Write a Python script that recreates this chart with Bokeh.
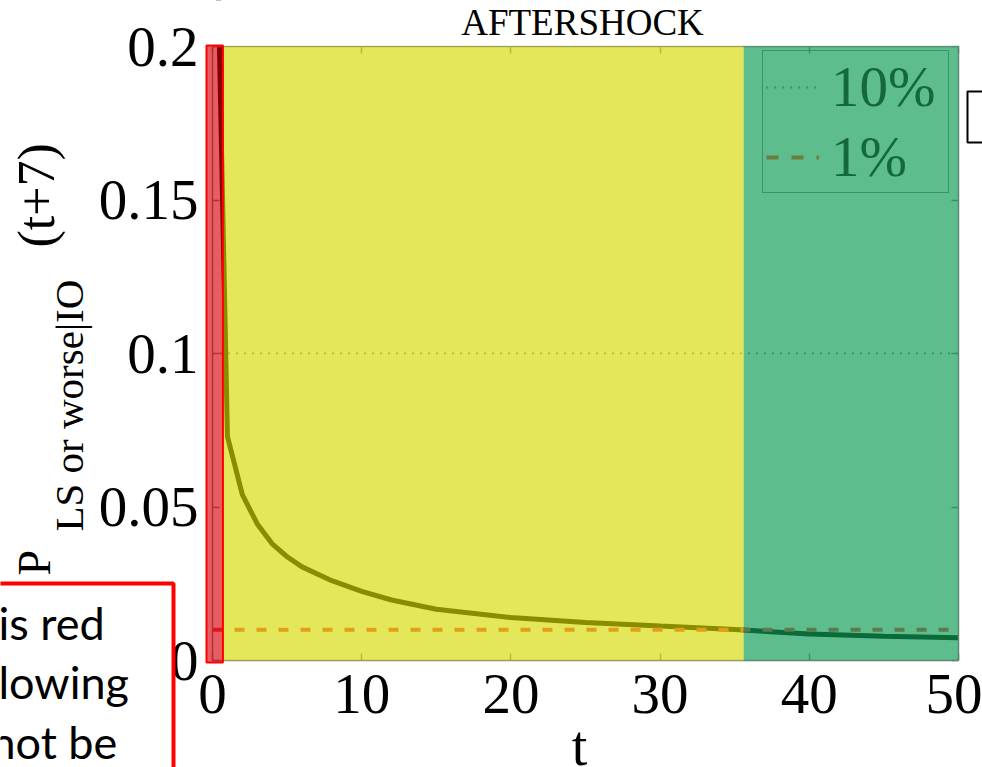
from math import pi
from bokeh.plotting import figure
from bokeh.models import (BoxAnnotation, Label, Legend, LegendItem, LinearAxis,
                          FixedTicker, Range1d, ColumnDataSource)
from bokeh.embed import file_html
from bokeh.resources import INLINE

# ---------------- data ----------------
t_vals = [0, 1, 2, 3, 4, 5, 6, 8, 10, 12, 15, 20, 25, 30, 35, 40, 45, 50]
p_vals = [0.31, 0.073, 0.054, 0.0445, 0.038, 0.0338, 0.0305, 0.026, 0.0225,
          0.0197, 0.0167, 0.0140, 0.0124, 0.0112, 0.0101, 0.0086, 0.0079, 0.0074]
threshold_names = ["10%", "1%"]
threshold_values = [0.10, 0.01]
x_ticks = [0, 10, 20, 30, 40, 50]
y_ticks = [0, 0.05, 0.1, 0.15, 0.2]
y_tick_labels = ["0", "0.05", "0.1", "0.15", "0.2"]
zone_edges = [0.7, 35.6]          # red | yellow | green boundaries (t)
title_text = "AFTERSHOCK"
x_label = "t"
y_label_parts = ["P", "LS or worse|IO", "(t+7)"]
note_lines = ["is red", "lowing", "not be"]

# ---------------- layout ----------------
W, H = 982, 767
FL, FR, FT, FB = 212, 958, 46, 660   # plot-box edges in pixels
X0, X1, Y0, Y1 = 0, 50, 0, 0.2


def dx(px):
    return X0 + (px - FL) * (X1 - X0) / (FR - FL)


def dy(py):
    return Y0 + (FB - py) * (Y1 - Y0) / (FB - FT)


SERIF = "Liberation Serif"
GREY = "#808080"

# the frame fills the whole canvas; the axes are pinned to the plot box
p = figure(width=W, height=H, x_range=Range1d(dx(0), dx(W)), y_range=Range1d(dy(H), dy(0)),
           output_backend="svg", toolbar_location=None,
           x_axis_location=None, y_axis_location=None, min_border=0)
p.background_fill_color = "white"
p.border_fill_color = "white"
p.outline_line_color = None
p.xgrid.visible = False
p.ygrid.visible = False


def make_axis(ticks, loc, bounds, labels=True):
    ax = LinearAxis(ticker=FixedTicker(ticks=ticks), fixed_location=loc, bounds=bounds,
                    axis_line_color=GREY, axis_line_width=1.5,
                    major_tick_line_color=GREY, major_tick_line_width=1.5,
                    major_tick_in=7, major_tick_out=0, minor_tick_line_color=None,
                    major_label_text_font=SERIF, major_label_text_font_size="57px",
                    major_label_text_color="black" if labels else None,
                    major_label_standoff=14)
    return ax


xax = make_axis(x_ticks, Y0, (X0, X1))
yax = make_axis(y_ticks, X0, (Y0, Y1))
yax.major_label_overrides = {v: s for v, s in zip(y_ticks, y_tick_labels)}
p.add_layout(xax, "below")
p.add_layout(yax, "left")
p.add_layout(make_axis(x_ticks, Y1, (X0, X1), labels=False), "above")
p.add_layout(make_axis(y_ticks, X1, (Y0, Y1), labels=False), "right")

# ---------------- glyphs ----------------
src = ColumnDataSource(dict(t=t_vals, p=p_vals))
p.line("t", "p", source=src, line_color="black", line_width=5)

span_x = [t_vals[0], t_vals[-1]]
p.line(span_x, [threshold_values[0]] * 2, line_color="#222222", line_width=2,
       line_dash="1 7")
p.line(span_x, [threshold_values[1]] * 2, line_color="#F53838", line_width=4,
       line_dash="10 12")

# legend keys styled as they look beneath the green overlay
nan2 = [float("nan")] * 2
k10 = p.line(nan2, nan2, line_color="#1E6E44", line_width=2, line_dash="1 7")
k1 = p.line(nan2, nan2, line_color="#6E7C3E", line_width=4, line_dash="12 13")
legend = Legend(items=[LegendItem(label=threshold_names[0], renderers=[k10]),
                       LegendItem(label=threshold_names[1], renderers=[k1])],
                location=(762, H - 193),
                label_text_font=SERIF, label_text_font_size="57px",
                label_text_color="#14683A",
                border_line_color="#1B6B40", border_line_width=1.5,
                background_fill_alpha=0.0,
                glyph_width=53, glyph_height=40, label_standoff=12,
                label_width=114, padding=3, spacing=5, margin=0)
p.add_layout(legend)

# white mask above the plot box (the curve leaves the box at t ~ 0.5)
p.add_layout(BoxAnnotation(left=dx(FL - 5), right=X1, bottom=dy(FT - 1), top=dy(-60),
                           fill_color="white", fill_alpha=1.0, line_alpha=0))

# ---------------- translucent zone overlays ----------------
p.add_layout(BoxAnnotation(left=zone_edges[0], right=zone_edges[1], bottom=Y0, top=Y1,
                           fill_color="#D6D900", fill_alpha=0.645,
                           line_alpha=0, level="overlay"))
p.add_layout(BoxAnnotation(left=zone_edges[1], right=X1, bottom=Y0, top=Y1,
                           fill_color="#0F9D56", fill_alpha=0.675,
                           line_alpha=0, level="overlay"))
p.add_layout(BoxAnnotation(left=dx(206), right=zone_edges[0], top=dy(45), bottom=dy(662),
                           fill_color="#D6000A", fill_alpha=0.63,
                           line_color="#FF0000", line_alpha=1.0, line_width=2,
                           level="overlay"))


# ---------------- texts ----------------
def lab(text, px, py, size, font=SERIF, angle=0.0, align="left"):
    # (px, py): where the text's baseline starts in the picture
    shift = 0.2 * size + 7
    if angle:
        px -= shift
    else:
        py -= shift
    p.add_layout(Label(x=dx(px), y=dy(py), text=text, angle=angle, text_align=align,
                       text_baseline="alphabetic", text_font=font,
                       text_font_size=f"{size}px", text_color="black", level="overlay"))


lab(title_text, 582, 36, 37, align="center")
lab(x_label, 579, 764, 56, align="center")
lab(y_label_parts[0], 50, 575, 46, angle=pi / 2)
lab(y_label_parts[1], 84, 531, 41, angle=pi / 2)
lab(y_label_parts[2], 53, 247, 52, angle=pi / 2)

# overlaid note box (cut off at the left/bottom edge of the picture)
p.add_layout(BoxAnnotation(left=dx(-30), right=dx(173), top=dy(583), bottom=dy(820),
                           fill_color="white", fill_alpha=1.0,
                           line_color="#FF0000", line_alpha=1.0, line_width=4,
                           level="overlay"))
for txt, px, py in zip(note_lines, [-2, -2, -10], [638, 697, 757]):
    lab(txt, px, py, 45, font="Lato")

# cut-off bracket at the top right edge
p.add_layout(BoxAnnotation(left=dx(967), right=dx(1010), top=dy(91), bottom=dy(142),
                           fill_alpha=0, line_color="black", line_alpha=1.0, line_width=2,
                           level="overlay"))

open("out.html", "w").write(file_html(p, INLINE))
